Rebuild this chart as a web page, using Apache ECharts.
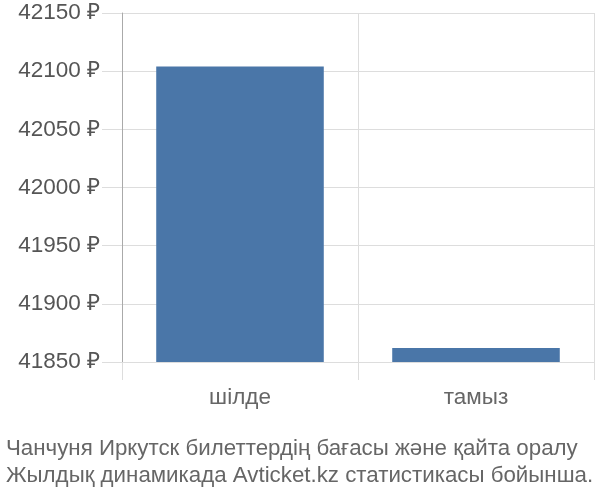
<!DOCTYPE html>
<html><head><meta charset="utf-8">
<script src="https://cdn.jsdelivr.net/npm/echarts@6/dist/echarts.min.js"></script>
<style>html,body{margin:0;padding:0;background:#fff}#c{width:600px;height:500px}</style>
</head><body><div id="c"></div>
<script>
var categories = ['шілде', 'тамыз'];
var prices = [42104, 41862];
var yTicks = [41850, 41900, 41950, 42000, 42050, 42100, 42150];
var titleLines = ['Чанчуня Иркутск билеттердің бағасы және қайта оралу', 'Жылдық динамикада Avticket.kz статистикасы бойынша.'];

var chart = echarts.init(document.getElementById('c'));
chart.setOption({
  animation: false,
  title: {
    text: titleLines.join('\n'),
    left: 1, top: 430,
    textStyle: {fontFamily: 'Liberation Sans', fontSize: 22.3, fontWeight: 'normal', color: '#666', lineHeight: 27}
  },
  grid: {left: 122, right: 6, top: 13, bottom: 138},
  xAxis: {
    type: 'category', data: categories,
    axisLine: {show: false},
    axisTick: {show: true, length: 18, lineStyle: {color: '#ddd'}},
    splitLine: {show: true, lineStyle: {color: '#ddd'}},
    axisLabel: {fontFamily: 'Liberation Sans', fontSize: 22.5, color: '#666', margin: 24}
  },
  yAxis: {
    type: 'value', min: yTicks[0], max: yTicks[yTicks.length - 1], interval: 50,
    axisLine: {show: true, lineStyle: {color: '#aaa'}},
    axisTick: {show: true, length: 20, lineStyle: {color: '#ddd'}},
    splitLine: {show: true, lineStyle: {color: '#ddd'}},
    axisLabel: {fontFamily: 'Liberation Sans', fontSize: 22.5, color: '#555', margin: 22,
      formatter: function (v) { return v + ' ₽'; }}
  },
  series: [{
    type: 'bar', data: prices, barCategoryGap: '29%',
    itemStyle: {color: '#4a76a8'}
  }]
});
</script></body></html>
